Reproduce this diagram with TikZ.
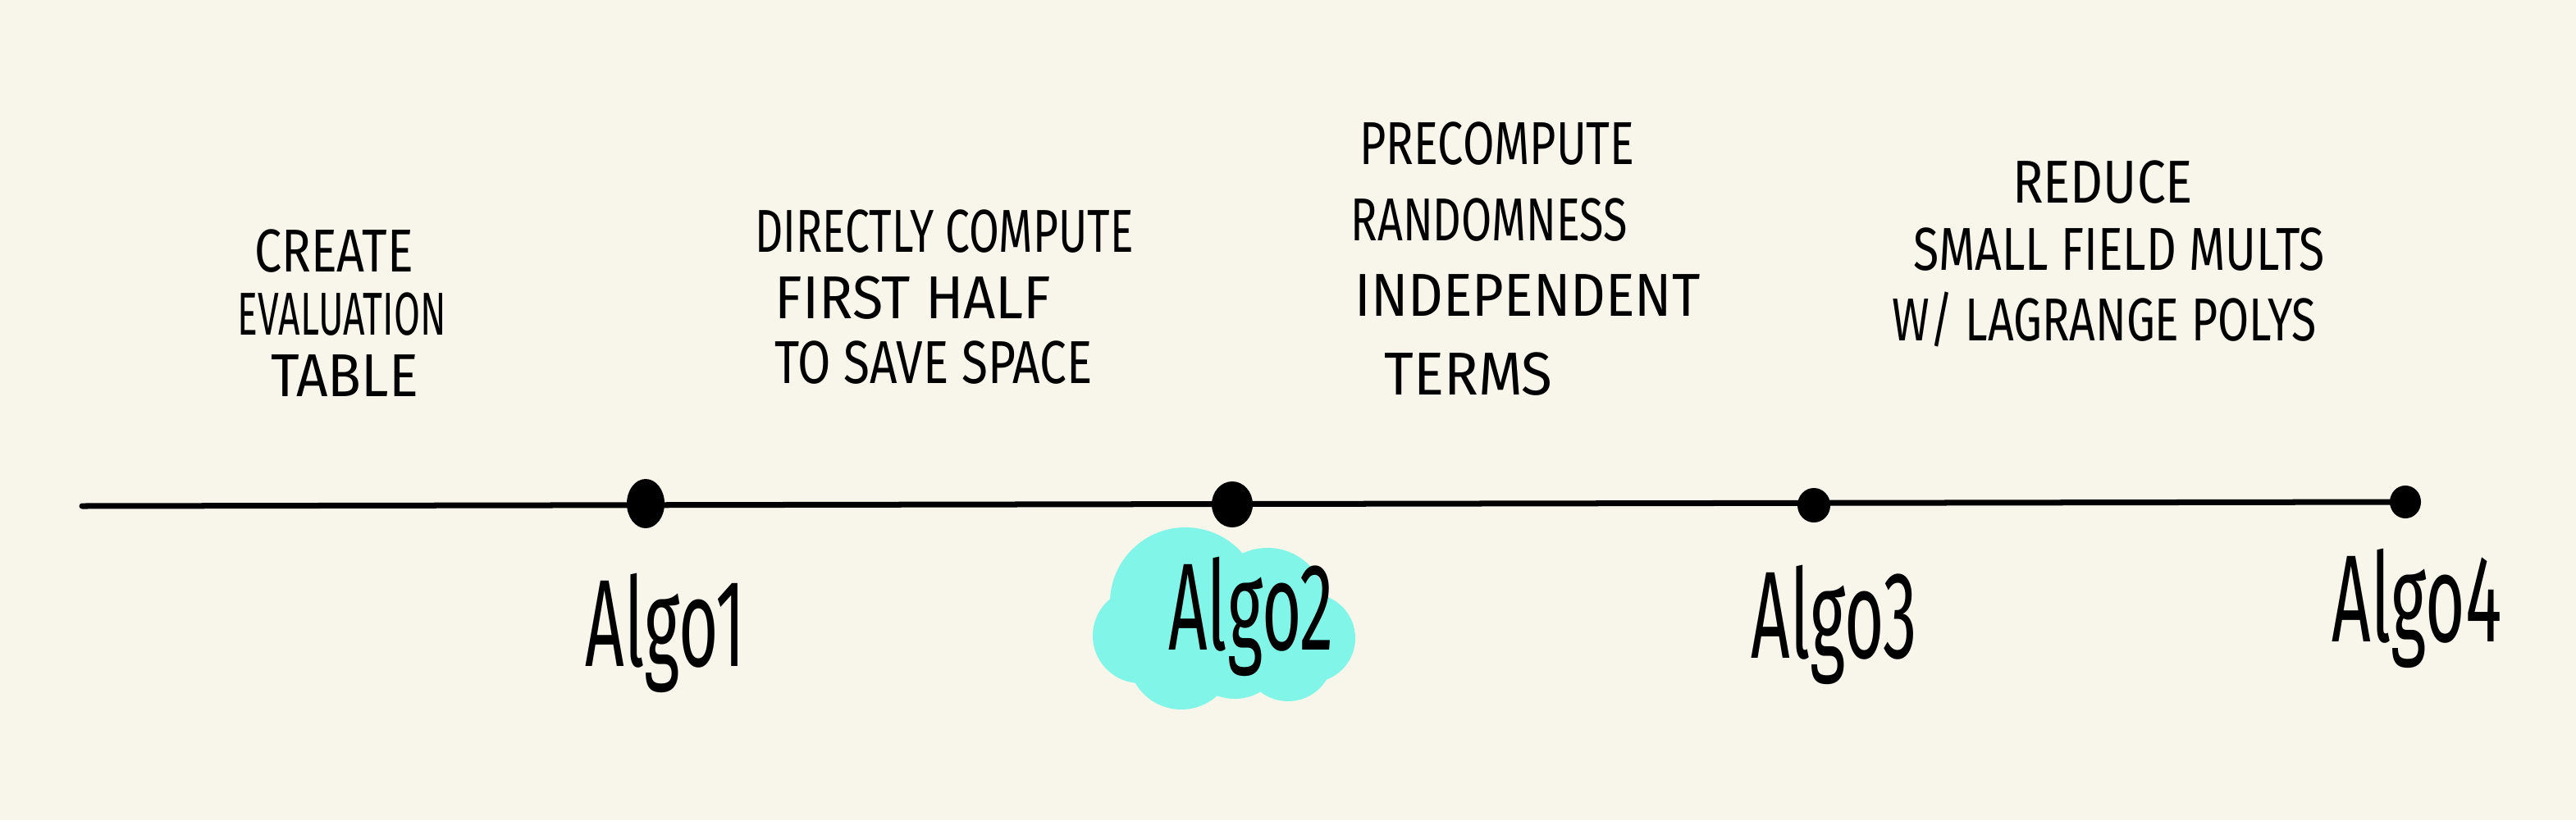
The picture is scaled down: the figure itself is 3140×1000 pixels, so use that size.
\documentclass[tikz,border=0pt]{standalone}
\usepackage{fontspec}
\usepackage{graphicx}
\setmainfont{Fira Sans}
\usetikzlibrary{shapes.geometric}
\definecolor{bg}{HTML}{F8F6EA}
\definecolor{cloudc}{HTML}{80F5E8}
\newlength{\pxu}
\setlength{\pxu}{0.01cm}
\newcommand{\fitw}[2]{\resizebox{#1\pxu}{\height}{#2}}
\newcommand{\alg}[1]{\scalebox{0.55}[1]{#1}}
\begin{document}
\begin{tikzpicture}[x=0.01cm,y=-0.01cm,
  note/.style={inner sep=0pt, font=\fontsize{21}{25}\selectfont},
  algo/.style={inner sep=0pt, anchor=base, font=\fontsize{43}{48}\selectfont},
  dot/.style={ellipse, fill=black, inner sep=0pt},
  axis/.style={line width=0.07cm, line cap=round},
  cloudpart/.style={fill=cloudc}]
\fill[bg] (0,0) rectangle (3140,1000);
\useasboundingbox (0,0) rectangle (3140,1000);
% cloud behind Algo2
\fill[cloudpart] (1445,735) circle (92);
\fill[cloudpart] (1545,740) circle (72);
\fill[cloudpart] (1598,778) circle (54);
\fill[cloudpart] (1390,775) circle (58);
\fill[cloudpart] (1440,800) circle (65);
\fill[cloudpart] (1570,800) circle (55);
\fill[cloudpart] (1505,790) circle (62);
% timeline
\coordinate (start) at (100,617);
\node[dot, minimum width=0.46cm, minimum height=0.6cm] (d1) at (787,614) {};
\node[dot, minimum width=0.5cm, minimum height=0.56cm] (d2) at (1502,615) {};
\node[dot, minimum width=0.4cm, minimum height=0.42cm] (d3) at (2211,616) {};
\node[dot, minimum width=0.38cm, minimum height=0.4cm] (d4) at (2932,612) {};
\draw[axis] (start) -- (d4.center);
% labels
\node[algo] (a1) at (811,812) {\alg{Algo1}};
\node[algo] (a2) at (1525,792) {\alg{Algo2}};
\node[algo] (a3) at (2236,802) {\alg{Algo3}};
\node[algo] (a4) at (2946,782) {\alg{Algo4}};
% notes
\node[note] (n1a) at (407,306) {\fitw{194}{CREATE}};
\node[note] (n1b) at (417,383) {\fitw{254}{EVALUATION}};
\node[note] (n1c) at (420,458) {\fitw{180}{TABLE}};
\node[note] (n2a) at (1151,282) {\fitw{461}{DIRECTLY COMPUTE}};
\node[note] (n2b) at (1113,363) {\fitw{337}{FIRST HALF}};
\node[note] (n2c) at (1138,442) {\fitw{387}{TO SAVE SPACE}};
\node[note] (n3a) at (1825,175) {\fitw{335}{PRECOMPUTE}};
\node[note] (n3b) at (1815,268) {\fitw{337}{RANDOMNESS}};
\node[note] (n3c) at (1862,360) {\fitw{421}{INDEPENDENT}};
\node[note] (n3d) at (1790,456) {\fitw{205}{TERMS}};
\node[note] (n4a) at (2563,222) {\fitw{220}{REDUCE}};
\node[note] (n4b) at (2583,304) {\fitw{501}{SMALL FIELD MULTS}};
\node[note] (n4c) at (2565,390) {\fitw{517}{W/ LAGRANGE POLYS}};
\end{tikzpicture}
\end{document}
